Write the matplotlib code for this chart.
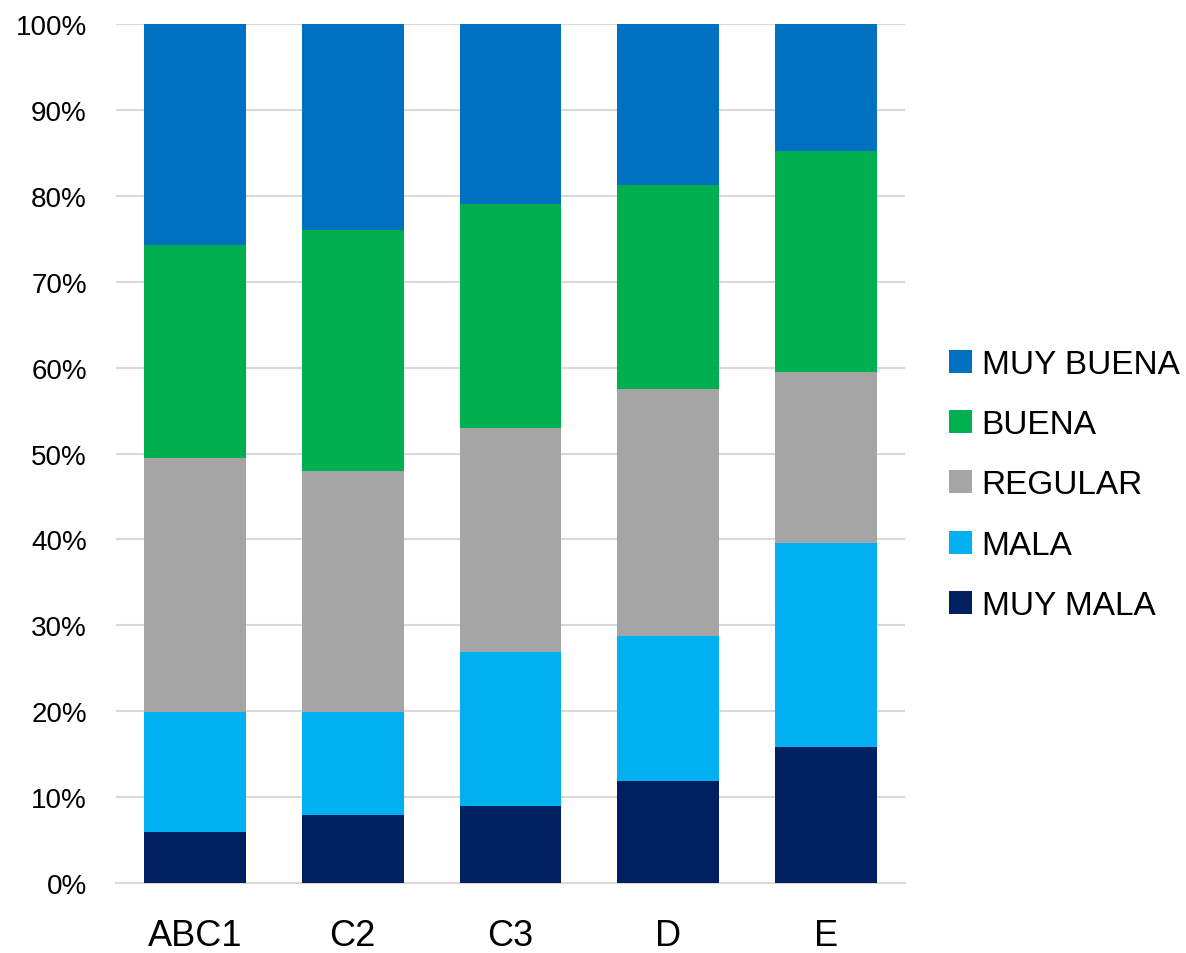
import matplotlib
matplotlib.use("Agg")
import matplotlib.pyplot as plt
from matplotlib.ticker import PercentFormatter
import numpy as np

plt.rcParams['font.family'] = ['Liberation Sans', 'DejaVu Sans']

categories = ["ABC1", "C2", "C3", "D", "E"]
series_names = ["MUY MALA", "MALA", "REGULAR", "BUENA", "MUY BUENA"]
muy_mala = [5.9, 7.9, 9.0, 11.9, 15.8]
mala = [14.0, 12.0, 17.9, 16.8, 23.8]
regular = [29.6, 28.1, 26.1, 28.8, 19.9]
buena = [24.8, 28.0, 26.0, 23.8, 25.7]
muy_buena = [25.7, 24.0, 21.0, 18.7, 14.8]
colors = ["#002060", "#00B0F0", "#A5A5A5", "#00B050", "#0070C0"]

W, H = 1186, 954
fig = plt.figure(figsize=(W / 100, H / 100), dpi=100)
ax = fig.add_axes([116 / W, 1 - 884 / H, (905 - 116) / W, (884 - 25) / H])

x = np.arange(len(categories))
bottom = np.zeros(len(categories))
handles = []
for name, vals, c in zip(series_names, [muy_mala, mala, regular, buena, muy_buena], colors):
    b = ax.bar(x, vals, bottom=bottom, width=0.645, color=c, label=name, zorder=3)
    handles.append(b)
    bottom += np.array(vals)

ax.set_ylim(0, 100)
ax.set_xlim(-0.5, len(categories) - 0.5)
ax.set_yticks(np.arange(0, 101, 10))
ax.yaxis.set_major_formatter(PercentFormatter(decimals=0))
ax.grid(axis='y', color='#D9D9D9', linewidth=1.5, zorder=0)
for s in ['top', 'right', 'left']:
    ax.spines[s].set_visible(False)
ax.spines['bottom'].set_color('#D9D9D9')
ax.spines['bottom'].set_linewidth(1.5)
ax.tick_params(axis='y', length=0, labelsize=20, pad=21)
ax.tick_params(axis='x', length=0, labelsize=26, pad=25)
ax.set_xticks(x)
ax.set_xticklabels(categories)

fig.legend(handles[::-1], series_names[::-1], loc='center left',
           bbox_to_anchor=(949 / W, 1 - 486 / H), frameon=False, fontsize=24,
           handlelength=0.68, handleheight=0.68, handletextpad=0.3,
           labelspacing=0.88, borderpad=0, borderaxespad=0)

fig.savefig("out.png", dpi=100)
